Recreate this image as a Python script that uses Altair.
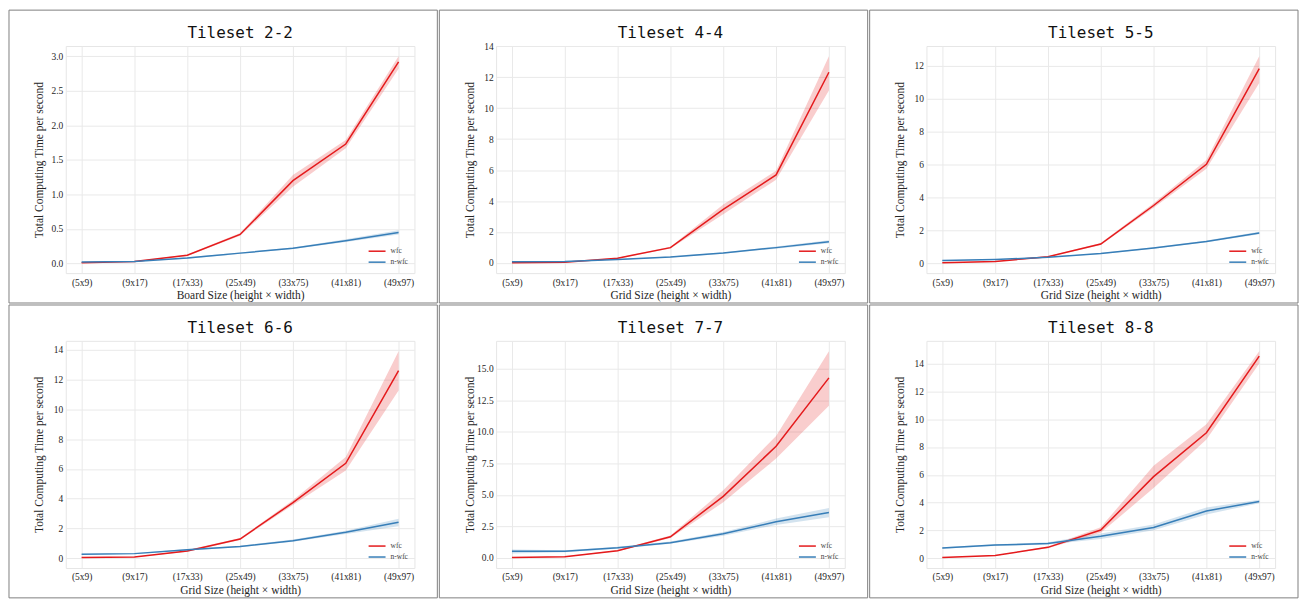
import altair as alt
import pandas as pd

SIZES = ["(5x9)", "(9x17)", "(17x33)", "(25x49)", "(33x75)", "(41x81)", "(49x97)"]
SERIES = ["wfc", "n-wfc"]
COLORS = ["#e41a1c", "#377eb8"]

TITLES = ["Tileset 2-2", "Tileset 4-4", "Tileset 5-5", "Tileset 6-6", "Tileset 7-7", "Tileset 8-8"]
XTITLES = ["Board Size (height \u00d7 width)"] + ["Grid Size (height \u00d7 width)"] * 5
YTITLE = "Total Computing Time per second"
YTICKS = [
    [0.0, 0.5, 1.0, 1.5, 2.0, 2.5, 3.0],
    [0, 2, 4, 6, 8, 10, 12, 14],
    [0, 2, 4, 6, 8, 10, 12],
    [0, 2, 4, 6, 8, 10, 12, 14],
    [0.0, 2.5, 5.0, 7.5, 10.0, 12.5, 15.0],
    [0, 2, 4, 6, 8, 10, 12, 14],
]
YFORMATS = [".1f", "d", "d", "d", ".1f", "d"]

# Tileset 2-2
WFC_22 = [0.01, 0.03, 0.12, 0.42, 1.20, 1.73, 2.92]
WFC_22_LO = [0.01, 0.03, 0.11, 0.40, 1.11, 1.67, 2.82]
WFC_22_HI = [0.02, 0.03, 0.13, 0.44, 1.28, 1.79, 3.00]
NWFC_22 = [0.02, 0.03, 0.08, 0.15, 0.22, 0.33, 0.45]
NWFC_22_LO = [0.02, 0.03, 0.07, 0.14, 0.21, 0.31, 0.42]
NWFC_22_HI = [0.02, 0.03, 0.09, 0.16, 0.23, 0.35, 0.48]

# Tileset 4-4
WFC_44 = [0.02, 0.05, 0.31, 0.99, 3.46, 5.69, 12.32]
WFC_44_LO = [0.01, 0.04, 0.28, 0.93, 3.15, 5.38, 11.14]
WFC_44_HI = [0.03, 0.06, 0.34, 1.05, 3.77, 5.96, 13.35]
NWFC_44 = [0.08, 0.10, 0.23, 0.39, 0.64, 0.99, 1.37]
NWFC_44_LO = [0.07, 0.09, 0.21, 0.36, 0.60, 0.92, 1.27]
NWFC_44_HI = [0.09, 0.11, 0.25, 0.42, 0.68, 1.06, 1.47]

# Tileset 5-5
WFC_55 = [0.05, 0.12, 0.41, 1.18, 3.52, 6.02, 11.83]
WFC_55_LO = [0.04, 0.11, 0.38, 1.12, 3.38, 5.75, 10.96]
WFC_55_HI = [0.06, 0.13, 0.44, 1.24, 3.66, 6.28, 12.58]
NWFC_55 = [0.18, 0.24, 0.37, 0.61, 0.94, 1.34, 1.85]
NWFC_55_LO = [0.16, 0.22, 0.35, 0.58, 0.90, 1.29, 1.78]
NWFC_55_HI = [0.20, 0.26, 0.39, 0.64, 0.98, 1.39, 1.92]

# Tileset 6-6
WFC_66 = [0.06, 0.09, 0.50, 1.30, 3.74, 6.37, 12.59]
WFC_66_LO = [0.05, 0.08, 0.44, 1.24, 3.58, 5.90, 11.25]
WFC_66_HI = [0.07, 0.10, 0.56, 1.36, 3.90, 6.80, 13.89]
NWFC_66 = [0.28, 0.32, 0.58, 0.80, 1.19, 1.75, 2.42]
NWFC_66_LO = [0.25, 0.29, 0.53, 0.75, 1.12, 1.64, 2.16]
NWFC_66_HI = [0.31, 0.35, 0.63, 0.85, 1.26, 1.86, 2.66]

# Tileset 7-7
WFC_77 = [0.03, 0.10, 0.57, 1.68, 4.88, 8.86, 14.28]
WFC_77_LO = [0.02, 0.08, 0.52, 1.58, 4.41, 7.88, 12.08]
WFC_77_HI = [0.04, 0.12, 0.62, 1.78, 5.37, 9.68, 16.40]
NWFC_77 = [0.52, 0.52, 0.80, 1.21, 1.91, 2.87, 3.61]
NWFC_77_LO = [0.34, 0.45, 0.72, 1.12, 1.76, 2.62, 3.23]
NWFC_77_HI = [0.67, 0.60, 0.88, 1.30, 2.06, 3.12, 3.95]

# Tileset 8-8
WFC_88 = [0.07, 0.21, 0.80, 2.04, 5.87, 9.02, 14.52]
WFC_88_LO = [0.06, 0.19, 0.74, 1.84, 5.05, 8.53, 13.98]
WFC_88_HI = [0.08, 0.23, 0.86, 2.24, 6.65, 9.63, 14.87]
NWFC_88 = [0.75, 0.96, 1.08, 1.60, 2.23, 3.41, 4.09]
NWFC_88_LO = [0.70, 0.90, 1.00, 1.40, 2.03, 3.16, 3.97]
NWFC_88_HI = [0.80, 1.02, 1.16, 1.80, 2.43, 3.66, 4.21]

PANELS = [
    ((WFC_22, WFC_22_LO, WFC_22_HI), (NWFC_22, NWFC_22_LO, NWFC_22_HI)),
    ((WFC_44, WFC_44_LO, WFC_44_HI), (NWFC_44, NWFC_44_LO, NWFC_44_HI)),
    ((WFC_55, WFC_55_LO, WFC_55_HI), (NWFC_55, NWFC_55_LO, NWFC_55_HI)),
    ((WFC_66, WFC_66_LO, WFC_66_HI), (NWFC_66, NWFC_66_LO, NWFC_66_HI)),
    ((WFC_77, WFC_77_LO, WFC_77_HI), (NWFC_77, NWFC_77_LO, NWFC_77_HI)),
    ((WFC_88, WFC_88_LO, WFC_88_HI), (NWFC_88, NWFC_88_LO, NWFC_88_HI)),
]

W, H = 350, 228
SERIF = "Liberation Serif"
MONO = "DejaVu Sans Mono"
TEXT = "#262626"


def legend_layers():
    # guide drawn in the lower-right corner of the plot, like matplotlib's legend
    layers = []
    one = alt.Data(values=[{}])
    for k, (name, col) in enumerate(zip(SERIES, COLORS)):
        yy = H - 22 + 11 * k
        layers.append(alt.Chart(one).mark_rule(color=col, strokeWidth=1.5).encode(
            x=alt.value(W - 46), x2=alt.value(W - 29), y=alt.value(yy)))
        layers.append(alt.Chart(one).mark_text(
            text=name, font=SERIF, fontSize=7.5, color="#444", align="left", baseline="middle"
        ).encode(x=alt.value(W - 24), y=alt.value(yy)))
    return layers


def panel(i):
    rows = []
    for name, (m, lo, hi) in zip(SERIES, PANELS[i]):
        for k, s in enumerate(SIZES):
            rows.append({"size": s, "series": name, "mean": m[k], "lo": lo[k], "hi": hi[k]})
    df = pd.DataFrame(rows)
    dmin, dmax = df["lo"].min(), df["hi"].max()
    margin = 0.05 * (dmax - dmin)
    yscale = alt.Scale(domain=[dmin - margin, dmax + margin], nice=False, zero=False)
    yaxis = alt.Axis(title=YTITLE, values=YTICKS[i], format=YFORMATS[i],
                     labelPadding=3, minExtent=14, maxExtent=14, titlePadding=7)
    x = alt.X("size:N", sort=SIZES, scale=alt.Scale(type="point", padding=0.3),
              axis=alt.Axis(title=XTITLES[i], labelAngle=0, labelPadding=4, titlePadding=3))
    cscale = alt.Scale(domain=SERIES, range=COLORS)

    band = alt.Chart(df).mark_area(opacity=0.22).encode(
        x=x,
        y=alt.Y("lo:Q", scale=yscale, axis=yaxis),
        y2="hi:Q",
        color=alt.Color("series:N", scale=cscale, legend=None),
    )
    line = alt.Chart(df).mark_line(strokeWidth=1.5).encode(
        x=x,
        y=alt.Y("mean:Q", scale=yscale, axis=yaxis),
        color=alt.Color("series:N", scale=cscale, legend=None),
    )
    one = alt.Data(values=[{}])
    title = alt.Chart(one).mark_text(
        text=TITLES[i], font=MONO, fontSize=16, color="#111", align="center", baseline="middle"
    ).encode(x=alt.value(W / 2), y=alt.value(-13))
    border = alt.Chart(one).mark_rect(
        filled=False, stroke="#7f7f7f", strokeWidth=1
    ).encode(
        x=alt.value(-57), x2=alt.value(373), y=alt.value(-36), y2=alt.value(H + 30)
    )
    return alt.layer(band, line, *legend_layers(), title, border).properties(width=W, height=H)


def row(a, b, c):
    return alt.hconcat(panel(a), panel(b), panel(c), spacing=0).resolve_scale(
        color="independent", x="independent", y="independent"
    )


chart = alt.vconcat(row(0, 1, 2), row(3, 4, 5), spacing=0).resolve_scale(
    color="independent", x="independent", y="independent"
).properties(
    padding=0, background="white"
).configure_view(
    stroke="#e6e6e6", strokeWidth=1
).configure_axis(
    grid=True, gridColor="#e9e9e9", gridWidth=1, domain=False, ticks=False,
    labelFont=SERIF, labelFontSize=9.5, labelColor=TEXT,
    titleFont=SERIF, titleFontSize=11.5, titleFontWeight="normal", titleColor=TEXT,
)

chart.save("out.html", embed_options={"renderer": "svg", "actions": False})
